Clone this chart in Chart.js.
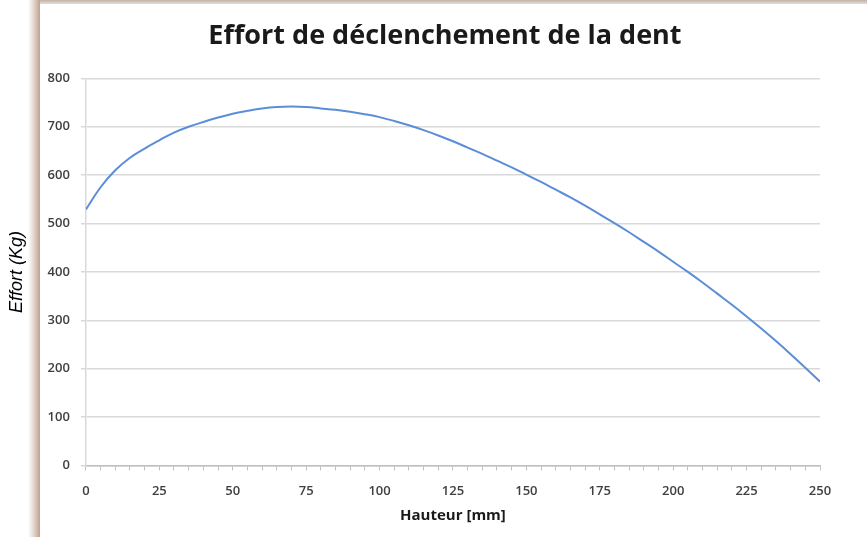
<!DOCTYPE html>
<html>
<head>
<meta charset="utf-8">
<script src="https://cdn.jsdelivr.net/npm/chart.js@4/dist/chart.umd.min.js"></script>
<style>
  html, body { margin: 0; padding: 0; background: #fff; }
  #wrap { width: 867px; height: 537px; position: relative; }
</style>
</head>
<body>
<div id="wrap"><canvas id="myChart" width="867" height="537"></canvas></div>
<script>
// hauteur (mm) et effort (kg)
hauteur = [0, 5, 10, 15, 20, 25, 30, 35, 40, 45, 50, 55, 60, 65, 70, 75, 80, 85, 90, 95,
  100, 105, 110, 115, 120, 125, 130, 135, 140, 145, 150, 155, 160, 165, 170, 175, 180, 185, 190, 195,
  200, 205, 210, 215, 220, 225, 230, 235, 240, 245, 250]
effort = [529, 575, 610, 636, 655, 672, 688, 700, 710, 719, 727, 733, 738, 741, 742, 741, 738, 735, 731, 726,
  720, 712, 703, 693, 682, 670, 657, 644, 630, 616, 601, 586, 570, 554, 537, 519, 501, 482, 462, 442,
  421, 400, 378, 355, 332, 308, 283, 257, 230, 202, 173]
x_labels = [0, 25, 50, 75, 100, 125, 150, 175, 200, 225, 250]
y_labels = [0, 100, 200, 300, 400, 500, 600, 700, 800]

// cadre de l'image (bordure beige a gauche et en haut)
const framePlugin = {
  id: 'frame',
  afterLayout(chart) {
    // titre un peu decale vers la gauche comme dans l'original
    if (chart.titleBlock) {
      chart.titleBlock.left -= 8;
      chart.titleBlock.right -= 8;
    }
  },
  beforeDraw(chart) {
    const ctx = chart.ctx;
    ctx.save();
    ctx.fillStyle = '#fff';
    ctx.fillRect(0, 0, chart.width, chart.height);
    let g = ctx.createLinearGradient(28, 0, 40, 0);
    g.addColorStop(0, 'rgba(200,175,160,0)');
    g.addColorStop(1, 'rgba(190,160,140,1)');
    ctx.fillStyle = g;
    ctx.fillRect(28, 0, 12, chart.height);
    let g2 = ctx.createLinearGradient(0, 0, 0, 4);
    g2.addColorStop(0, 'rgba(200,175,160,1)');
    g2.addColorStop(1, 'rgba(220,225,232,1)');
    ctx.fillStyle = g2;
    ctx.fillRect(40, 0, chart.width - 40, 4);
    ctx.restore();
  }
};

let myChart = document.getElementById('myChart').getContext('2d');
let lineChart = new Chart(myChart, {
  type: 'line',
  data: {
    datasets: [
      {
        label: 'Effort',
        data: hauteur.map((h, i) => ({x: h, y: effort[i]})),
        borderColor: '#5b8ed6',
        borderWidth: 2,
        pointRadius: 0,
        tension: 0.4,
        fill: false
      }
    ]
  },
  options: {
    responsive: false,
    animation: false,
    layout: { padding: { left: 6, right: 47, top: 10, bottom: 12 } },
    plugins: {
      legend: { display: false },
      tooltip: { enabled: false },
      title: {
        display: true,
        fullSize: false,
        text: 'Effort de déclenchement de la dent',
        color: '#1a1a1a',
        font: { family: 'Open Sans', size: 27, weight: 'bold' },
        padding: { top: 10, bottom: 26 }
      }
    },
    scales: {
      x: {
        type: 'linear',
        min: 0,
        max: 250,
        afterBuildTicks: axis => {
          axis.ticks = hauteur.map(v => ({value: v}));
        },
        ticks: {
          autoSkip: false,
          maxRotation: 0,
          color: '#404040',
          font: { family: 'Open Sans', size: 13, weight: '600' },
          padding: 13,
          callback: v => x_labels.includes(v) ? String(v) : ''
        },
        grid: {
          drawOnChartArea: false,
          color: '#bfbfbf',
          tickLength: 5
        },
        border: { color: '#bfbfbf', width: 1.5 },
        title: {
          display: true,
          text: 'Hauteur [mm]',
          color: '#1a1a1a',
          font: { family: 'Open Sans', size: 15, weight: 'bold' },
          padding: { top: -5, bottom: 0 }
        }
      },
      y: {
        min: 0,
        max: 800,
        afterBuildTicks: axis => {
          axis.ticks = y_labels.map(v => ({value: v}));
        },
        ticks: {
          color: '#404040',
          font: { family: 'Open Sans', size: 13, weight: '600' },
          padding: 11
        },
        grid: {
          color: '#d9d9d9',
          lineWidth: 1.5,
          tickLength: 5
        },
        border: { color: '#d9d9d9', width: 1.5 },
        title: {
          display: true,
          text: 'Effort (Kg)',
          color: '#000',
          font: { family: 'Liberation Sans', size: 18, style: 'italic' },
          padding: { top: 0, bottom: 9 }
        }
      }
    }
  },
  plugins: [framePlugin]
});
</script>
</body>
</html>
